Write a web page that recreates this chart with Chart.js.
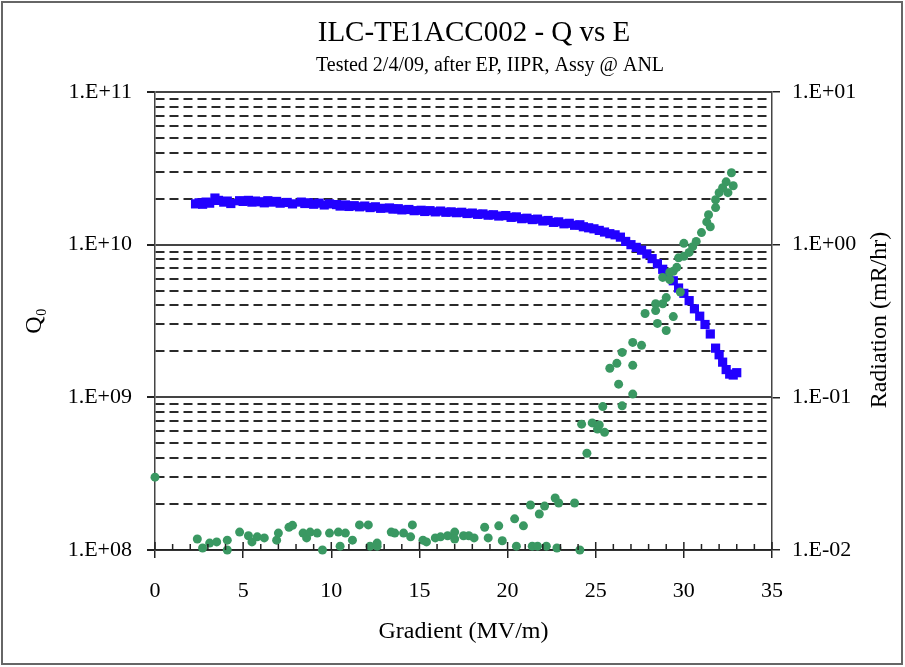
<!doctype html>
<html lang="en">
<head>
<meta charset="utf-8">
<script src="https://cdn.jsdelivr.net/npm/chart.js"></script>
<style>
  body { margin: 0; background: #fff; }
  #qvse { display: block; }
</style>
</head>
<body>
<canvas id="qvse" width="905" height="667"></canvas>
<script>
// Q0 (left axis) - blue squares
const qGradient = [2.3, 2.5, 2.7, 2.9, 3.1, 3.4, 3.6, 3.9, 4.1, 4.3,
  4.8, 5.0, 5.3, 5.5, 5.7, 6.0, 6.2, 6.4, 6.6, 6.9,
  7.1, 7.5, 7.8, 8.3, 8.5, 8.7, 9.0, 9.3, 9.6, 9.9,
  10.3, 10.5, 10.8, 11.0, 11.3, 11.6, 11.9, 12.2, 12.5, 12.8,
  13.3, 13.5, 13.8, 14.0, 14.4, 14.7, 15.1, 15.3, 15.6, 15.9,
  16.2, 16.5, 16.8, 17.1, 17.4, 17.7, 18.0, 18.3, 18.6, 18.9,
  19.2, 19.5, 19.9, 20.2, 20.5, 20.8, 21.1, 21.4, 21.7, 22.0,
  22.3, 22.6, 22.9, 23.2, 23.5, 23.8, 24.1, 24.3, 24.6, 24.9,
  25.2, 25.5, 25.8, 26.1, 26.4, 26.7, 27.0, 27.3, 27.6, 27.9,
  28.2, 28.5, 28.8, 29.1, 29.4, 29.7, 30.0, 30.3, 30.6, 30.9,
  31.2, 31.5, 31.8, 32.0, 32.2, 32.4, 32.6, 32.8, 33.0];
const qValues = [1.85e10, 1.88e10, 1.84e10, 1.90e10, 1.87e10, 2.02e10, 1.95e10, 1.90e10, 1.93e10, 1.86e10,
  1.94e10, 1.92e10, 1.95e10, 1.90e10, 1.93e10, 1.91e10, 1.88e10, 1.94e10, 1.90e10, 1.92e10,
  1.87e10, 1.89e10, 1.85e10, 1.90e10, 1.86e10, 1.88e10, 1.84e10, 1.87e10, 1.82e10, 1.85e10,
  1.83e10, 1.79e10, 1.82e10, 1.78e10, 1.80e10, 1.77e10, 1.79e10, 1.75e10, 1.77e10, 1.73e10,
  1.74e10, 1.71e10, 1.72e10, 1.69e10, 1.70e10, 1.67e10, 1.68e10, 1.65e10, 1.67e10, 1.64e10,
  1.66e10, 1.63e10, 1.64e10, 1.62e10, 1.63e10, 1.60e10, 1.61e10, 1.58e10, 1.59e10, 1.56e10,
  1.57e10, 1.54e10, 1.55e10, 1.51e10, 1.52e10, 1.48e10, 1.49e10, 1.46e10, 1.47e10, 1.43e10,
  1.44e10, 1.40e10, 1.41e10, 1.37e10, 1.38e10, 1.34e10, 1.35e10, 1.31e10, 1.29e10, 1.27e10,
  1.24e10, 1.21e10, 1.18e10, 1.16e10, 1.12e10, 1.05e10, 1.00e10, 9.6e9, 9.2e9, 8.7e9,
  8.1e9, 7.5e9, 6.9e9, 6.3e9, 5.8e9, 5.2e9, 4.8e9, 4.3e9, 3.8e9, 3.4e9,
  3.0e9, 2.6e9, 2.1e9, 1.9e9, 1.7e9, 1.52e9, 1.42e9, 1.40e9, 1.45e9];

// radiation (right axis) - green dots
const radGradient = [0, 2.4, 2.7, 3.1, 3.5, 4.1, 4.1, 4.8, 5.3, 5.5,
  5.8, 6.2, 6.9, 7.0, 7.6, 7.8, 8.4, 8.6, 8.8, 9.2,
  9.5, 9.9, 10.4, 10.5, 10.8, 11.2, 11.6, 12.1, 12.2, 12.6,
  12.6, 13.4, 13.6, 14.1, 14.5, 14.6, 15.2, 15.4, 15.9, 16.2,
  16.6, 17.0, 17.0, 17.5, 17.8, 18.1, 18.7, 18.9, 19.5, 19.7,
  20.4, 20.5, 20.9, 21.3, 21.4, 21.7, 21.8, 22.1, 22.2, 22.7,
  22.9, 22.8, 23.8, 24.1, 24.5, 24.2, 24.8, 25.1, 25.2, 25.5,
  25.4, 26.5, 26.3, 27.1, 25.8, 26.2, 27.1, 26.5, 27.1, 27.6,
  29.0, 28.5, 29.4, 27.8, 28.4, 28.4, 28.8, 29.0, 29.8, 28.8,
  29.2, 29.2, 29.4, 29.6, 29.7, 30.0, 30.3, 30.0, 30.7, 30.5,
  31.0, 31.5, 31.3, 31.4, 31.8, 31.8, 32.0, 32.5, 32.2, 32.4,
  32.8, 32.7];
const radValues = [0.030, 0.0118, 0.0103, 0.0111, 0.0113, 0.0100, 0.0116, 0.0131, 0.0124, 0.0113,
  0.0122, 0.0120, 0.0116, 0.0129, 0.0141, 0.0145, 0.0129, 0.0120, 0.0131, 0.0129,
  0.0100, 0.0129, 0.0131, 0.0106, 0.0129, 0.0116, 0.0146, 0.0146, 0.0106, 0.0111,
  0.0106, 0.0131, 0.0129, 0.0129, 0.0122, 0.0146, 0.0116, 0.0113, 0.0120, 0.0122,
  0.0124, 0.0131, 0.0118, 0.0124, 0.0124, 0.0120, 0.0141, 0.0120, 0.0144, 0.0115,
  0.0160, 0.0106, 0.0144, 0.0197, 0.0106, 0.0106, 0.0172, 0.0194, 0.0106, 0.0219,
  0.0203, 0.0103, 0.0203, 0.0100, 0.043, 0.0667, 0.068, 0.062, 0.066, 0.059,
  0.087, 0.088, 0.122, 0.105, 0.155, 0.167, 0.162, 0.197, 0.229, 0.219,
  0.274, 0.305, 0.338, 0.354, 0.37, 0.41, 0.41, 0.45, 0.49, 0.61,
  0.59, 0.66, 0.67, 0.71, 0.82, 0.84, 0.89, 1.02, 1.05, 0.97,
  1.20, 1.31, 1.41, 1.57, 1.75, 1.97, 2.19, 2.19, 2.36, 2.58,
  2.43, 2.96];

// tick values (gridlines at every 1..9 of each decade)
const qTicks = [1e8, 2e8, 3e8, 4e8, 5e8, 6e8, 7e8, 8e8, 9e8,
  1e9, 2e9, 3e9, 4e9, 5e9, 6e9, 7e9, 8e9, 9e9,
  1e10, 2e10, 3e10, 4e10, 5e10, 6e10, 7e10, 8e10, 9e10, 1e11];
const qDecadeLabels = ['1.E+08', '1.E+09', '1.E+10', '1.E+11'];
const radTicks = [0.01, 0.02, 0.03, 0.04, 0.05, 0.06, 0.07, 0.08, 0.09,
  0.1, 0.2, 0.3, 0.4, 0.5, 0.6, 0.7, 0.8, 0.9,
  1, 2, 3, 4, 5, 6, 7, 8, 9, 10];
const radDecadeLabels = ['1.E-02', '1.E-01', '1.E+00', '1.E+01'];
const gradientTicks = [0, 5, 10, 15, 20, 25, 30, 35];

const serif = "'Liberation Serif', 'Times New Roman', serif";

function isDecade(v) {
  const l = Math.log10(v);
  return Math.abs(l - Math.round(l)) < 1e-6;
}
function decadeLabel(v, first, labels) {
  if (!isDecade(v)) return '';
  return labels[Math.round(Math.log10(v)) - first];
}

var extras = {
  id: 'extras',
  afterDraw: function (chart) {
    var ctx = chart.ctx;
    var x = chart.scales.x;
    var bottom = chart.chartArea.bottom;
    ctx.save();
    // small upward ticks on gradient axis
    ctx.strokeStyle = '#222';
    ctx.lineWidth = 1.5;
    for (var v = 0; v <= 35; v++) {
      var px = x.getPixelForValue(v);
      ctx.beginPath();
      ctx.moveTo(px, bottom);
      ctx.lineTo(px, bottom - (v % 5 === 0 ? 8 : 6));
      ctx.stroke();
    }
    // titles
    ctx.fillStyle = '#000';
    ctx.textAlign = 'center';
    ctx.textBaseline = 'middle';
    ctx.font = '29px ' + serif;
    ctx.fillText('ILC-TE1ACC002 - Q vs E', 474, 33);
    ctx.font = '20px ' + serif;
    ctx.fillText('Tested 2/4/09, after EP, IIPR, Assy @ ANL', 490, 66);
    // right axis title, reads bottom to top
    ctx.translate(880, 320);
    ctx.rotate(-Math.PI / 2);
    ctx.font = '24px ' + serif;
    ctx.fillText('Radiation (mR/hr)', 0, 0);
    ctx.restore();
    // frame round the picture
    ctx.save();
    ctx.strokeStyle = '#666';
    ctx.lineWidth = 2;
    ctx.strokeRect(2, 2, 900, 662);
    ctx.restore();
  }
};

new Chart(document.getElementById('qvse'), {
  type: 'scatter',
  data: {
    datasets: [{
      label: 'Radiation',
      data: radGradient.map((g, i) => ({x: g, y: radValues[i]})),
      yAxisID: 'y2',
      pointStyle: 'circle',
      pointRadius: 4.5,
      backgroundColor: 'rgb(58,152,98)',
      borderColor: 'rgb(58,152,98)',
      borderWidth: 0,
      clip: false
    }, {
      label: 'Q0',
      data: qGradient.map((g, i) => ({x: g, y: qValues[i]})),
      yAxisID: 'y',
      pointStyle: 'rect',
      pointRadius: 6.5,
      backgroundColor: 'rgb(34,0,255)',
      borderColor: 'rgb(34,0,255)',
      borderWidth: 0,
      clip: false
    }]
  },
  options: {
    responsive: false,
    animation: false,
    layout: { padding: { left: 8, right: 3, top: 92, bottom: 12 } },
    plugins: {
      legend: { display: false },
      tooltip: { enabled: false }
    },
    scales: {
      x: {
        type: 'linear',
        min: 0,
        max: 35,
        afterBuildTicks: s => { s.ticks = gradientTicks.map(v => ({value: v})); },
        afterFit: s => { s.height = 105; },
        ticks: { color: '#000', padding: 20, font: { family: serif, size: 22 } },
        grid: { drawOnChartArea: false, tickLength: 8, tickColor: '#222', lineWidth: 1.5 },
        border: { color: '#222', width: 1.5 },
        title: { display: true, text: 'Gradient (MV/m)', color: '#000',
          font: { family: serif, size: 24 }, padding: { top: 4, bottom: 9 } }
      },
      y: {
        type: 'logarithmic',
        position: 'left',
        min: 1e8,
        max: 1e11,
        afterBuildTicks: s => { s.ticks = qTicks.map(v => ({value: v})); },
        afterFit: s => { s.width = 147; },
        ticks: {
          color: '#000', padding: 15, autoSkip: false,
          font: { family: serif, size: 22 },
          callback: v => decadeLabel(v, 8, qDecadeLabels)
        },
        grid: {
          color: c => (c.tick && isDecade(c.tick.value)) ? '#444' : '#2a2a2a',
          lineWidth: 2,
          tickLength: 8,
          tickColor: c => (c.tick && isDecade(c.tick.value)) ? '#222' : 'rgba(0,0,0,0)'
        },
        border: {
          color: '#444', width: 1.5,
          dash: c => (c.tick && !isDecade(c.tick.value)) ? [9, 5] : []
        },
        title: { display: true, text: 'Q₀', color: '#000',
          font: { family: serif, size: 24 }, padding: { top: 12, bottom: 0 } }
      },
      y2: {
        type: 'logarithmic',
        position: 'right',
        min: 0.01,
        max: 10,
        afterBuildTicks: s => { s.ticks = radTicks.map(v => ({value: v})); },
        afterFit: s => { s.width = 130; },
        ticks: {
          color: '#000', padding: 12, autoSkip: false,
          font: { family: serif, size: 22 },
          callback: v => decadeLabel(v, -2, radDecadeLabels)
        },
        grid: {
          drawOnChartArea: false,
          lineWidth: 1.5,
          tickLength: 8,
          tickColor: c => (c.tick && isDecade(c.tick.value)) ? '#222' : 'rgba(0,0,0,0)'
        },
        border: { color: '#444', width: 1.5 }
      }
    }
  },
  plugins: [extras]
});
</script>
</body>
</html>
